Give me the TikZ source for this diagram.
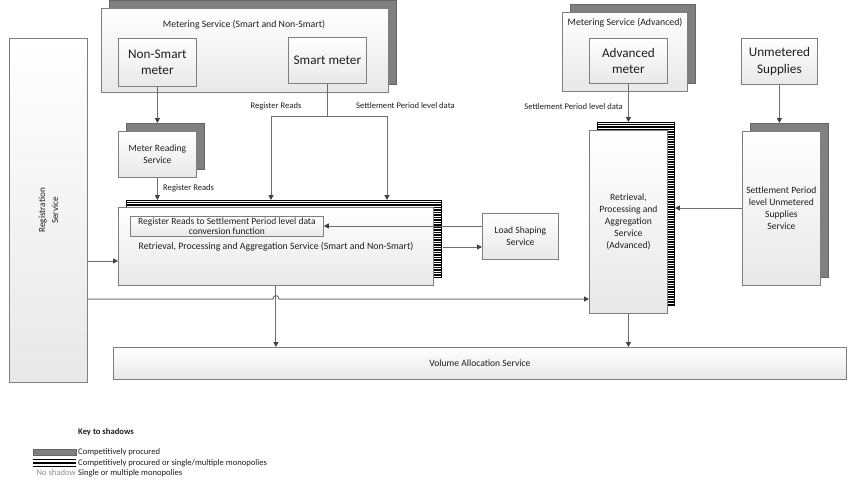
\documentclass[tikz,border=0pt]{standalone}
\usepackage{fontspec}
\setmainfont{Carlito}
\usetikzlibrary{arrows.meta,calc,backgrounds}
\definecolor{edge}{HTML}{7F7F7F}
\definecolor{conn}{HTML}{6E6E6E}
\definecolor{tip}{HTML}{404040}
\definecolor{shadowgray}{HTML}{808080}
\definecolor{txt}{HTML}{1E1E1E}
\tikzset{
 box/.style={draw=edge, line width=0.8pt, top color=white, bottom color=black!9, anchor=north west, inner sep=0pt, align=center, text=txt, font=\fontsize{9.6}{12}\selectfont},
 bigbox/.style={box, font=\fontsize{13.2}{16.5}\selectfont},
 lbl/.style={text=txt, font=\fontsize{8.6}{10}\selectfont, inner sep=0pt},
 conn/.style={draw=conn, line width=1pt, -{Triangle[length=5pt,width=5pt,color=tip]}},
 wire/.style={draw=conn, line width=1pt},
 solidshadow/.style={fill=shadowgray, draw=black!60, line width=0.5pt},
 stripeshadow/.style={fill=white, draw=black, line width=0.8pt},
}
\newcommand\stripebox[4]{%
 \filldraw[stripeshadow] (#1,#2) rectangle (#3,#4);
 \begin{scope}
 \clip (#1,#2) rectangle (#3,#4);
 \pgfmathsetmacro\ytwo{#2+2.5}
 \foreach \yy in {#2,\ytwo,...,#4} \draw[line width=1.25pt] (#1,\yy) -- (#3,\yy);
 \end{scope}}
\begin{document}
\begin{tikzpicture}[x=1pt,y=-1pt]
\useasboundingbox (0,0) rectangle (850,484);

% boxes
\node[box, minimum width=78pt, minimum height=344pt] (reg) at (9,38) {};
\node[lbl, rotate=90, align=center, font=\fontsize{9.2}{13}\selectfont] (regtxt) at (reg.center) {Registration\\Service};

\node[box, minimum width=287pt, minimum height=84pt] (msns) at (101,8) {};
\node[lbl, font=\fontsize{9.8}{11}\selectfont] (msnsT) at (244,25) {Metering Service (Smart and Non-Smart)};
\node[bigbox, minimum width=78pt, minimum height=48pt] (nsm) at (118,38) {Non-Smart\\meter};
\node[bigbox, minimum width=78pt, minimum height=46pt] (sm) at (288,37) {Smart meter};
\node[box, minimum width=78pt, minimum height=46pt] (mrs) at (118,131) {Meter Reading\\Service};
\node[box, minimum width=315pt, minimum height=78pt] (rsns) at (118,207) {};
\node[box, minimum width=193pt, minimum height=20pt, font=\fontsize{9.5}{11.5}\selectfont] (conv) at (130,216) {Register Reads to Settlement Period level data\\[-1pt]conversion function};
\node[lbl, font=\fontsize{9.8}{11}\selectfont] (rsnsT) at (276,247) {Retrieval, Processing and Aggregation Service (Smart and Non-Smart)};
\node[box, minimum width=76pt, minimum height=46pt] (lss) at (482,213) {Load Shaping\\Service};
\node[box, minimum width=733pt, minimum height=32pt] (vas) at (113,347) {Volume Allocation Service};
\node[box, minimum width=125pt, minimum height=79pt] (msadv) at (562,12) {};
\node[lbl, font=\fontsize{9.8}{11}\selectfont] (msadvT) at (625,23) {Metering Service (Advanced)};
\node[bigbox, minimum width=78pt, minimum height=45pt] (adv) at (589,38) {Advanced\\meter};
\node[bigbox, minimum width=76pt, minimum height=46pt] (ums) at (741,38) {Unmetered\\Supplies};
\node[box, minimum width=78pt, minimum height=183pt] (radv) at (589,130) {Retrieval,\\Processing and\\Aggregation\\Service\\(Advanced)};
\node[box, minimum width=78pt, minimum height=154pt] (spus) at (742,131) {Settlement Period\\level Unmetered\\Supplies\\Service};

% shadows
\begin{pgfonlayer}{background}
 \filldraw[solidshadow] (109,0) rectangle (396,84);
 \filldraw[solidshadow] (126,123) rectangle (204,169);
 \filldraw[solidshadow] (570,4) rectangle (695,83);
 \filldraw[solidshadow] (750,123) rectangle (828,277);
 \stripebox{126}{200}{441}{277}
 \stripebox{597}{122}{674}{305}
\end{pgfonlayer}

% connectors
\draw[conn] (nsm.south) -- ($(mrs.north)+(0,-8)$);
\draw[conn] (mrs.south) -- ($(mrs.south |- rsns.north)+(0,-7)$);
\node[lbl, anchor=west] (rrlbl1) at (163,188) {Register Reads};

\coordinate (sj) at (sm.south |- 0,116);
\coordinate (rrL) at (271,116);
\coordinate (spL) at (387,116);
\draw[wire] (sm.south) -- (sj);
\draw[wire] (rrL) -- (spL);
\draw[conn] (rrL) -- ($(rrL |- rsns.north)+(0,-7)$);
\draw[conn] (spL) -- ($(spL |- rsns.north)+(0,-7)$);
\node[lbl] (rrlbl2) at (276,106) {Register Reads};
\node[lbl, anchor=west] (splbl1) at (356,106) {Settlement Period level data};

\draw[conn] (lss.west |- 0,226) -- (conv.east |- 0,226);
\draw[conn] ($(rsns.east |- 0,247)+(9,0)$) -- (lss.west |- 0,247);
\draw[conn] (reg.east |- 0,261) -- (rsns.west |- 0,261);
\coordinate (hop) at (rsns.south |- 0,299);
\draw[conn] (reg.east |- 0,299) -- ($(hop)+(-3,0)$) .. controls ($(hop)+(-3,-4.5)$) and ($(hop)+(3,-4.5)$) .. ($(hop)+(3,0)$) -- (radv.west |- 0,299);
\draw[conn] (rsns.south) -- (rsns.south |- vas.north);

\draw[conn] (adv.south) -- ($(adv.south |- radv.north)+(0,-8)$);
\node[lbl, anchor=east] (splbl2) at (623,107) {Settlement Period level data};
\draw[conn] (ums.south) -- ($(ums.south |- spus.north)+(0,-8)$);
\draw[conn] (spus.west |- 0,208) -- ($(radv.east |- 0,208)+(7,0)$);
\draw[conn] (radv.south) -- (radv.south |- vas.north);

% legend
\node[lbl, anchor=west, font=\bfseries\fontsize{8.6}{10}\selectfont] (keyT) at (78,432) {Key to shadows};
\filldraw[solidshadow] (33,449) rectangle (76,455);
\draw[line width=1.3pt] (33,459.6) -- (76,459.6) (33,463) -- (76,463) (33,466.4) -- (76,466.4);
\node[lbl, anchor=west] (k1) at (78,452) {Competitively procured};
\node[lbl, anchor=west] (k2) at (78,463) {Competitively procured or single/multiple monopolies};
\node[lbl, anchor=west] (k3) at (78,473) {Single or multiple monopolies};
\node[lbl, anchor=east, text=black!45] (k0) at (76,473) {No shadow};
\end{tikzpicture}
\end{document}
